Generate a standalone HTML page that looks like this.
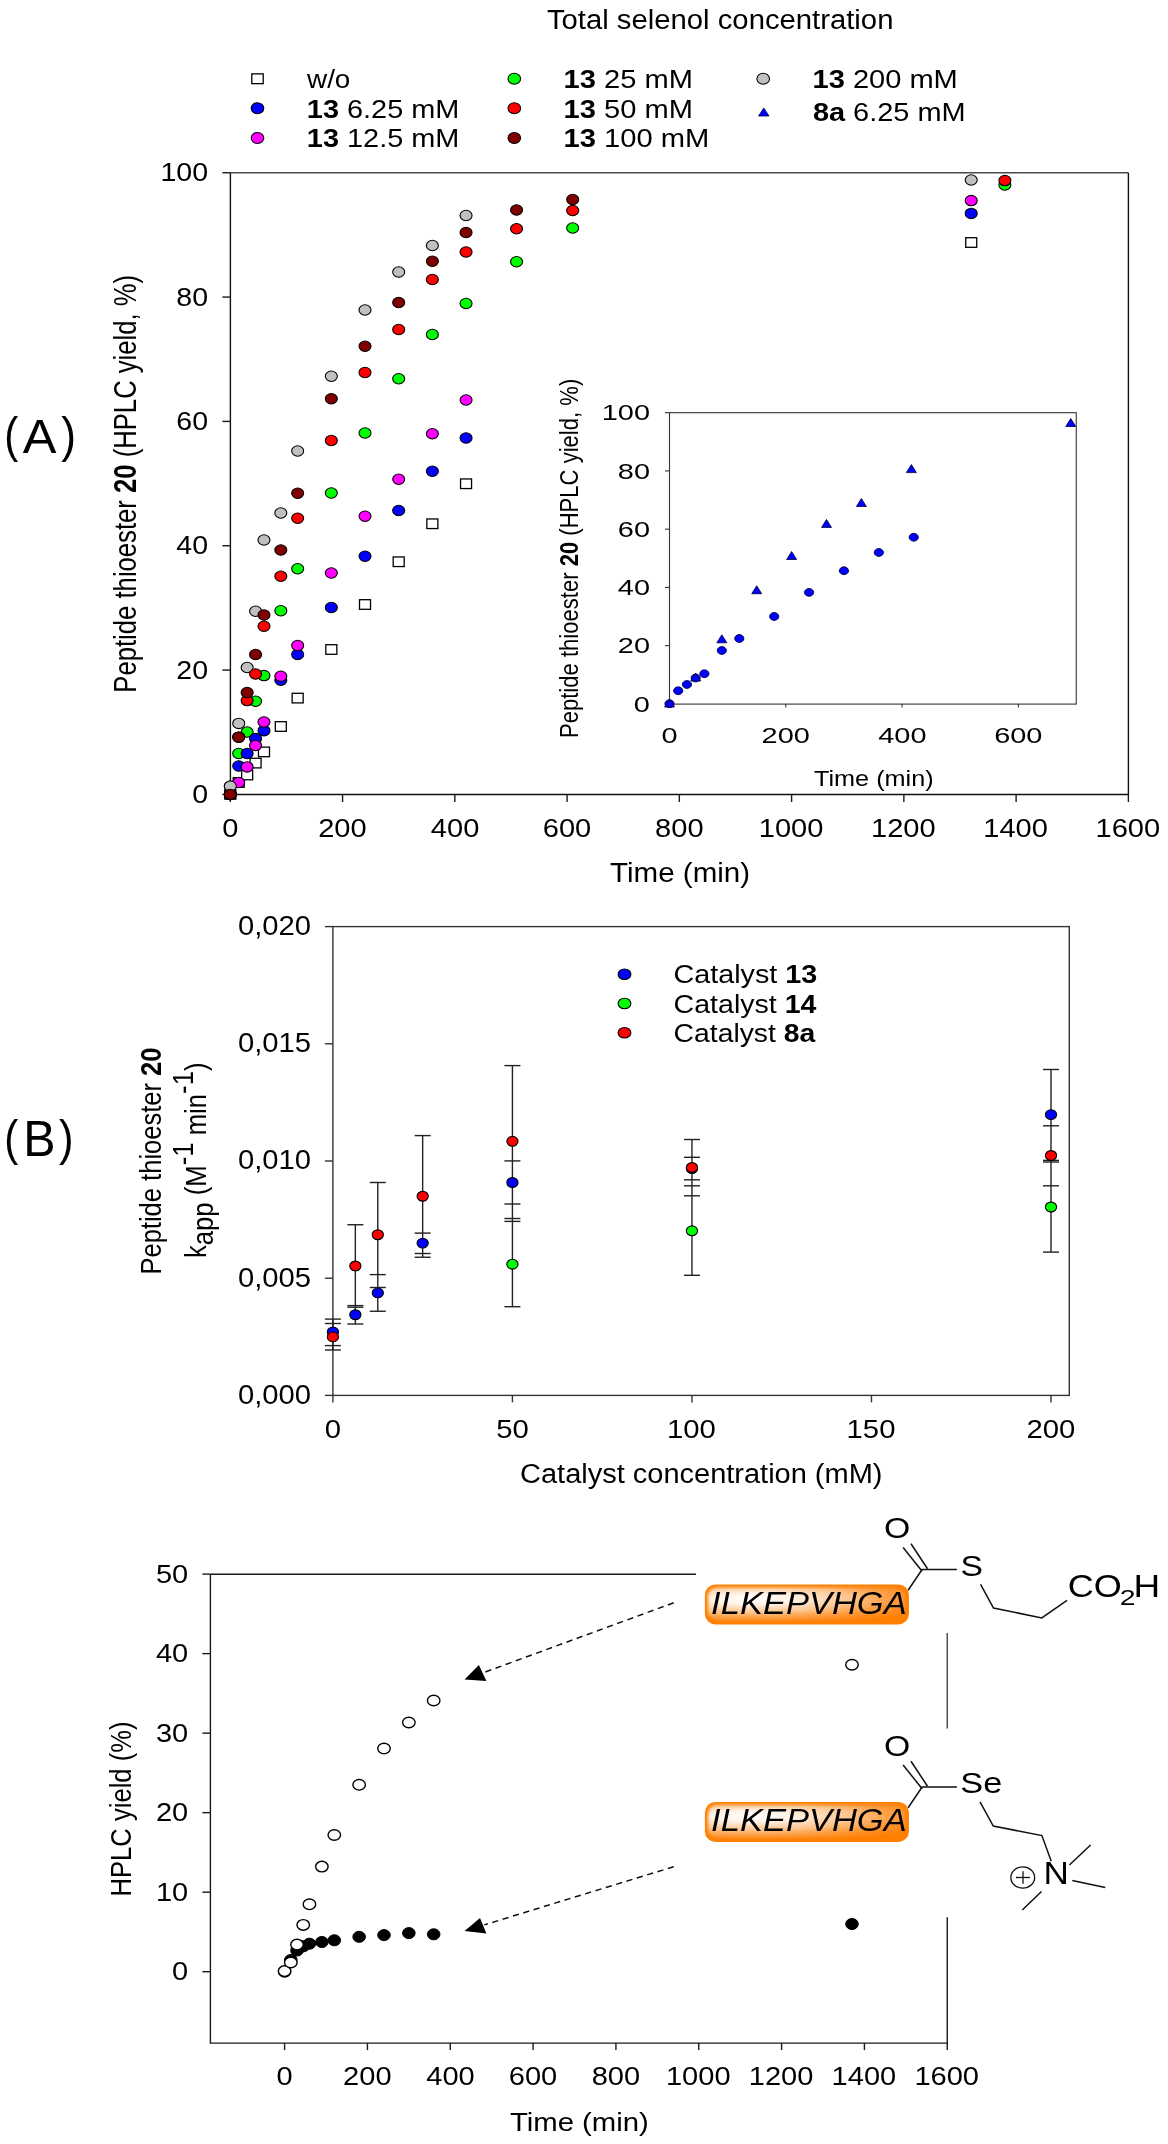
<!DOCTYPE html>
<html><head><meta charset="utf-8"><title>Figure</title>
<style>
html,body{margin:0;padding:0;background:#fff;}
body{width:1168px;height:2144px;overflow:hidden;}
svg{display:block;will-change:transform;}
text{font-family:"Liberation Sans",sans-serif;fill:#000;}
</style></head><body>
<svg width="1168" height="2144" viewBox="0 0 1168 2144">
<defs>
<filter id="bl" x="-10%" y="-30%" width="120%" height="160%"><feGaussianBlur stdDeviation="1.6"/></filter>
<radialGradient id="hl" cx="0.5" cy="0.5" r="0.5">
<stop offset="0" stop-color="#ffffff" stop-opacity="1"/>
<stop offset="0.2" stop-color="#fff6ee" stop-opacity="0.97"/>
<stop offset="0.5" stop-color="#fdd0a4" stop-opacity="0.85"/>
<stop offset="0.8" stop-color="#fca458" stop-opacity="0.45"/>
<stop offset="1" stop-color="#ff9030" stop-opacity="0"/>
</radialGradient>
</defs>
<rect width="1168" height="2144" fill="#fff"/>
<text xml:space="preserve" transform="translate(546.91,29.00) scale(1.0683,1)" font-size="27.40">Total selenol concentration</text>
<rect x="251.80" y="73.85" width="11.4" height="9.8" fill="#fff" stroke="#000" stroke-width="1.3"/>
<ellipse cx="257.50" cy="108.25" rx="6.3" ry="5.5" fill="#0000ff" stroke="#000" stroke-width="1.1"/>
<ellipse cx="257.50" cy="138.00" rx="6.3" ry="5.5" fill="#ff00ff" stroke="#000" stroke-width="1.1"/>
<text xml:space="preserve" transform="translate(307.00,87.50) scale(1.1155,1)" font-size="25.00">w/o</text>
<text xml:space="preserve" transform="translate(306.87,117.50) scale(1.1559,1)" font-size="25.00"><tspan font-weight="bold">13</tspan><tspan> 6.25 mM</tspan></text>
<text xml:space="preserve" transform="translate(306.87,147.00) scale(1.1559,1)" font-size="25.00"><tspan font-weight="bold">13</tspan><tspan> 12.5 mM</tspan></text>
<ellipse cx="514.30" cy="78.75" rx="6.3" ry="5.5" fill="#00ff00" stroke="#000" stroke-width="1.1"/>
<ellipse cx="514.30" cy="108.25" rx="6.3" ry="5.5" fill="#ff0000" stroke="#000" stroke-width="1.1"/>
<ellipse cx="514.30" cy="138.00" rx="6.3" ry="5.5" fill="#800000" stroke="#000" stroke-width="1.1"/>
<text xml:space="preserve" transform="translate(563.61,87.50) scale(1.1628,1)" font-size="25.00"><tspan font-weight="bold">13</tspan><tspan> 25 mM</tspan></text>
<text xml:space="preserve" transform="translate(563.61,117.50) scale(1.1628,1)" font-size="25.00"><tspan font-weight="bold">13</tspan><tspan> 50 mM</tspan></text>
<text xml:space="preserve" transform="translate(563.61,147.00) scale(1.1658,1)" font-size="25.00"><tspan font-weight="bold">13</tspan><tspan> 100 mM</tspan></text>
<ellipse cx="763.20" cy="78.75" rx="6.3" ry="5.5" fill="#c0c0c0" stroke="#000" stroke-width="1.1"/>
<polygon points="758.50,116.00 769.00,116.00 763.75,108.00" fill="#0000ff" stroke="#000033" stroke-width="0.8"/>
<text xml:space="preserve" transform="translate(812.61,87.50) scale(1.1617,1)" font-size="25.00"><tspan font-weight="bold">13</tspan><tspan> 200 mM</tspan></text>
<text xml:space="preserve" transform="translate(812.88,120.75) scale(1.1578,1)" font-size="25.00"><tspan font-weight="bold">8a</tspan><tspan> 6.25 mM</tspan></text>
<path d="M230.4,172.75 L1128.4,172.75" stroke="#4a4a4a" stroke-width="1.4" fill="none"/>
<path d="M1128.4,172.75 L1128.4,794.5 L230.4,794.5 L230.4,172.75" stroke="#111" stroke-width="1.4" fill="none"/>
<line x1="222.40" y1="794.40" x2="230.40" y2="794.40" stroke="#1a1a1a" stroke-width="1.4"/>
<text xml:space="preserve" transform="translate(192.19,803.00) scale(1.0900,1)" font-size="26.20">0</text>
<line x1="222.40" y1="670.07" x2="230.40" y2="670.07" stroke="#1a1a1a" stroke-width="1.4"/>
<text xml:space="preserve" transform="translate(176.34,678.67) scale(1.0900,1)" font-size="26.20">20</text>
<line x1="222.40" y1="545.74" x2="230.40" y2="545.74" stroke="#1a1a1a" stroke-width="1.4"/>
<text xml:space="preserve" transform="translate(176.34,554.34) scale(1.0900,1)" font-size="26.20">40</text>
<line x1="222.40" y1="421.41" x2="230.40" y2="421.41" stroke="#1a1a1a" stroke-width="1.4"/>
<text xml:space="preserve" transform="translate(176.34,430.01) scale(1.0900,1)" font-size="26.20">60</text>
<line x1="222.40" y1="297.08" x2="230.40" y2="297.08" stroke="#1a1a1a" stroke-width="1.4"/>
<text xml:space="preserve" transform="translate(176.34,305.68) scale(1.0900,1)" font-size="26.20">80</text>
<line x1="222.40" y1="172.75" x2="230.40" y2="172.75" stroke="#1a1a1a" stroke-width="1.4"/>
<text xml:space="preserve" transform="translate(160.49,181.35) scale(1.0900,1)" font-size="26.20">100</text>
<line x1="230.30" y1="794.50" x2="230.30" y2="802.00" stroke="#1a1a1a" stroke-width="1.4"/>
<text xml:space="preserve" transform="translate(222.23,836.90) scale(1.1100,1)" font-size="26.20">0</text>
<line x1="342.56" y1="794.50" x2="342.56" y2="802.00" stroke="#1a1a1a" stroke-width="1.4"/>
<text xml:space="preserve" transform="translate(318.20,836.90) scale(1.1100,1)" font-size="26.20">200</text>
<line x1="454.82" y1="794.50" x2="454.82" y2="802.00" stroke="#1a1a1a" stroke-width="1.4"/>
<text xml:space="preserve" transform="translate(430.83,836.90) scale(1.1100,1)" font-size="26.20">400</text>
<line x1="567.08" y1="794.50" x2="567.08" y2="802.00" stroke="#1a1a1a" stroke-width="1.4"/>
<text xml:space="preserve" transform="translate(542.72,836.90) scale(1.1100,1)" font-size="26.20">600</text>
<line x1="679.34" y1="794.50" x2="679.34" y2="802.00" stroke="#1a1a1a" stroke-width="1.4"/>
<text xml:space="preserve" transform="translate(655.06,836.90) scale(1.1100,1)" font-size="26.20">800</text>
<line x1="791.60" y1="794.50" x2="791.60" y2="802.00" stroke="#1a1a1a" stroke-width="1.4"/>
<text xml:space="preserve" transform="translate(758.74,836.90) scale(1.1100,1)" font-size="26.20">1000</text>
<line x1="903.86" y1="794.50" x2="903.86" y2="802.00" stroke="#1a1a1a" stroke-width="1.4"/>
<text xml:space="preserve" transform="translate(871.00,836.90) scale(1.1100,1)" font-size="26.20">1200</text>
<line x1="1016.12" y1="794.50" x2="1016.12" y2="802.00" stroke="#1a1a1a" stroke-width="1.4"/>
<text xml:space="preserve" transform="translate(983.26,836.90) scale(1.1100,1)" font-size="26.20">1400</text>
<line x1="1128.38" y1="794.50" x2="1128.38" y2="802.00" stroke="#1a1a1a" stroke-width="1.4"/>
<text xml:space="preserve" transform="translate(1095.52,836.90) scale(1.1100,1)" font-size="26.20">1600</text>
<text xml:space="preserve" transform="translate(610.11,881.80) scale(1.1022,1)" font-size="26.80">Time (min)</text>
<text xml:space="preserve" transform="translate(135.60,692.65) scale(1.1972,1) rotate(-90)" font-size="25.66"><tspan>Peptide thioester </tspan><tspan font-weight="bold">20</tspan><tspan> (HPLC yield, %)</tspan></text>
<text xml:space="preserve" transform="translate(4.33,451.80) scale(0.8382,1)" font-size="50.20">(</text>
<text xml:space="preserve" transform="translate(22.85,452.65) scale(1.0370,1)" font-size="48.80">A</text>
<text xml:space="preserve" transform="translate(61.15,451.80) scale(0.8888,1)" font-size="50.20">)</text>
<g>
<rect x="224.80" y="789.60" width="11" height="9.6" fill="#fff" stroke="#000" stroke-width="1.3"/>
<rect x="233.22" y="777.70" width="11" height="9.6" fill="#fff" stroke="#000" stroke-width="1.3"/>
<rect x="241.64" y="770.20" width="11" height="9.6" fill="#fff" stroke="#000" stroke-width="1.3"/>
<rect x="250.06" y="758.30" width="11" height="9.6" fill="#fff" stroke="#000" stroke-width="1.3"/>
<rect x="258.48" y="747.10" width="11" height="9.6" fill="#fff" stroke="#000" stroke-width="1.3"/>
<rect x="275.32" y="721.70" width="11" height="9.6" fill="#fff" stroke="#000" stroke-width="1.3"/>
<rect x="292.16" y="693.30" width="11" height="9.6" fill="#fff" stroke="#000" stroke-width="1.3"/>
<rect x="325.83" y="644.70" width="11" height="9.6" fill="#fff" stroke="#000" stroke-width="1.3"/>
<rect x="359.51" y="599.70" width="11" height="9.6" fill="#fff" stroke="#000" stroke-width="1.3"/>
<rect x="393.19" y="556.95" width="11" height="9.6" fill="#fff" stroke="#000" stroke-width="1.3"/>
<rect x="426.87" y="518.95" width="11" height="9.6" fill="#fff" stroke="#000" stroke-width="1.3"/>
<rect x="460.55" y="478.95" width="11" height="9.6" fill="#fff" stroke="#000" stroke-width="1.3"/>
<rect x="965.72" y="237.70" width="11" height="9.6" fill="#fff" stroke="#000" stroke-width="1.3"/>
<ellipse cx="230.30" cy="786.25" rx="6.0" ry="5.2" fill="#c0c0c0" stroke="#000" stroke-width="1.1"/>
<ellipse cx="238.72" cy="723.40" rx="6.0" ry="5.2" fill="#c0c0c0" stroke="#000" stroke-width="1.1"/>
<ellipse cx="247.14" cy="667.50" rx="6.0" ry="5.2" fill="#c0c0c0" stroke="#000" stroke-width="1.1"/>
<ellipse cx="255.56" cy="611.25" rx="6.0" ry="5.2" fill="#c0c0c0" stroke="#000" stroke-width="1.1"/>
<ellipse cx="263.98" cy="540.00" rx="6.0" ry="5.2" fill="#c0c0c0" stroke="#000" stroke-width="1.1"/>
<ellipse cx="280.82" cy="513.00" rx="6.0" ry="5.2" fill="#c0c0c0" stroke="#000" stroke-width="1.1"/>
<ellipse cx="297.66" cy="451.00" rx="6.0" ry="5.2" fill="#c0c0c0" stroke="#000" stroke-width="1.1"/>
<ellipse cx="331.33" cy="376.25" rx="6.0" ry="5.2" fill="#c0c0c0" stroke="#000" stroke-width="1.1"/>
<ellipse cx="365.01" cy="310.00" rx="6.0" ry="5.2" fill="#c0c0c0" stroke="#000" stroke-width="1.1"/>
<ellipse cx="398.69" cy="272.00" rx="6.0" ry="5.2" fill="#c0c0c0" stroke="#000" stroke-width="1.1"/>
<ellipse cx="432.37" cy="245.50" rx="6.0" ry="5.2" fill="#c0c0c0" stroke="#000" stroke-width="1.1"/>
<ellipse cx="466.05" cy="215.50" rx="6.0" ry="5.2" fill="#c0c0c0" stroke="#000" stroke-width="1.1"/>
<ellipse cx="971.22" cy="180.00" rx="6.0" ry="5.2" fill="#c0c0c0" stroke="#000" stroke-width="1.1"/>
<ellipse cx="230.30" cy="794.40" rx="6.0" ry="5.2" fill="#00ff00" stroke="#000" stroke-width="1.1"/>
<ellipse cx="238.72" cy="753.50" rx="6.0" ry="5.2" fill="#00ff00" stroke="#000" stroke-width="1.1"/>
<ellipse cx="247.14" cy="732.00" rx="6.0" ry="5.2" fill="#00ff00" stroke="#000" stroke-width="1.1"/>
<ellipse cx="255.56" cy="701.25" rx="6.0" ry="5.2" fill="#00ff00" stroke="#000" stroke-width="1.1"/>
<ellipse cx="263.98" cy="675.60" rx="6.0" ry="5.2" fill="#00ff00" stroke="#000" stroke-width="1.1"/>
<ellipse cx="280.82" cy="610.75" rx="6.0" ry="5.2" fill="#00ff00" stroke="#000" stroke-width="1.1"/>
<ellipse cx="297.66" cy="568.75" rx="6.0" ry="5.2" fill="#00ff00" stroke="#000" stroke-width="1.1"/>
<ellipse cx="331.33" cy="493.00" rx="6.0" ry="5.2" fill="#00ff00" stroke="#000" stroke-width="1.1"/>
<ellipse cx="365.01" cy="433.00" rx="6.0" ry="5.2" fill="#00ff00" stroke="#000" stroke-width="1.1"/>
<ellipse cx="398.69" cy="378.75" rx="6.0" ry="5.2" fill="#00ff00" stroke="#000" stroke-width="1.1"/>
<ellipse cx="432.37" cy="334.50" rx="6.0" ry="5.2" fill="#00ff00" stroke="#000" stroke-width="1.1"/>
<ellipse cx="466.05" cy="303.50" rx="6.0" ry="5.2" fill="#00ff00" stroke="#000" stroke-width="1.1"/>
<ellipse cx="516.56" cy="261.75" rx="6.0" ry="5.2" fill="#00ff00" stroke="#000" stroke-width="1.1"/>
<ellipse cx="572.69" cy="228.00" rx="6.0" ry="5.2" fill="#00ff00" stroke="#000" stroke-width="1.1"/>
<ellipse cx="1004.89" cy="185.00" rx="6.0" ry="5.2" fill="#00ff00" stroke="#000" stroke-width="1.1"/>
<ellipse cx="230.30" cy="794.40" rx="6.0" ry="5.2" fill="#ff0000" stroke="#000" stroke-width="1.1"/>
<ellipse cx="238.72" cy="737.20" rx="6.0" ry="5.2" fill="#ff0000" stroke="#000" stroke-width="1.1"/>
<ellipse cx="247.14" cy="700.60" rx="6.0" ry="5.2" fill="#ff0000" stroke="#000" stroke-width="1.1"/>
<ellipse cx="255.56" cy="674.00" rx="6.0" ry="5.2" fill="#ff0000" stroke="#000" stroke-width="1.1"/>
<ellipse cx="263.98" cy="626.25" rx="6.0" ry="5.2" fill="#ff0000" stroke="#000" stroke-width="1.1"/>
<ellipse cx="280.82" cy="576.25" rx="6.0" ry="5.2" fill="#ff0000" stroke="#000" stroke-width="1.1"/>
<ellipse cx="297.66" cy="518.25" rx="6.0" ry="5.2" fill="#ff0000" stroke="#000" stroke-width="1.1"/>
<ellipse cx="331.33" cy="440.50" rx="6.0" ry="5.2" fill="#ff0000" stroke="#000" stroke-width="1.1"/>
<ellipse cx="365.01" cy="372.50" rx="6.0" ry="5.2" fill="#ff0000" stroke="#000" stroke-width="1.1"/>
<ellipse cx="398.69" cy="329.50" rx="6.0" ry="5.2" fill="#ff0000" stroke="#000" stroke-width="1.1"/>
<ellipse cx="432.37" cy="279.50" rx="6.0" ry="5.2" fill="#ff0000" stroke="#000" stroke-width="1.1"/>
<ellipse cx="466.05" cy="252.00" rx="6.0" ry="5.2" fill="#ff0000" stroke="#000" stroke-width="1.1"/>
<ellipse cx="516.56" cy="228.75" rx="6.0" ry="5.2" fill="#ff0000" stroke="#000" stroke-width="1.1"/>
<ellipse cx="572.69" cy="210.50" rx="6.0" ry="5.2" fill="#ff0000" stroke="#000" stroke-width="1.1"/>
<ellipse cx="1004.89" cy="180.60" rx="6.0" ry="5.2" fill="#ff0000" stroke="#000" stroke-width="1.1"/>
<ellipse cx="230.30" cy="794.40" rx="6.0" ry="5.2" fill="#800000" stroke="#000" stroke-width="1.1"/>
<ellipse cx="238.72" cy="737.20" rx="6.0" ry="5.2" fill="#800000" stroke="#000" stroke-width="1.1"/>
<ellipse cx="247.14" cy="692.50" rx="6.0" ry="5.2" fill="#800000" stroke="#000" stroke-width="1.1"/>
<ellipse cx="255.56" cy="654.50" rx="6.0" ry="5.2" fill="#800000" stroke="#000" stroke-width="1.1"/>
<ellipse cx="263.98" cy="615.00" rx="6.0" ry="5.2" fill="#800000" stroke="#000" stroke-width="1.1"/>
<ellipse cx="280.82" cy="550.00" rx="6.0" ry="5.2" fill="#800000" stroke="#000" stroke-width="1.1"/>
<ellipse cx="297.66" cy="493.25" rx="6.0" ry="5.2" fill="#800000" stroke="#000" stroke-width="1.1"/>
<ellipse cx="331.33" cy="398.75" rx="6.0" ry="5.2" fill="#800000" stroke="#000" stroke-width="1.1"/>
<ellipse cx="365.01" cy="346.25" rx="6.0" ry="5.2" fill="#800000" stroke="#000" stroke-width="1.1"/>
<ellipse cx="398.69" cy="302.50" rx="6.0" ry="5.2" fill="#800000" stroke="#000" stroke-width="1.1"/>
<ellipse cx="432.37" cy="261.25" rx="6.0" ry="5.2" fill="#800000" stroke="#000" stroke-width="1.1"/>
<ellipse cx="466.05" cy="232.50" rx="6.0" ry="5.2" fill="#800000" stroke="#000" stroke-width="1.1"/>
<ellipse cx="516.56" cy="210.00" rx="6.0" ry="5.2" fill="#800000" stroke="#000" stroke-width="1.1"/>
<ellipse cx="572.69" cy="199.50" rx="6.0" ry="5.2" fill="#800000" stroke="#000" stroke-width="1.1"/>
<ellipse cx="238.72" cy="766.00" rx="6.0" ry="5.2" fill="#0000ff" stroke="#000" stroke-width="1.1"/>
<ellipse cx="247.14" cy="753.50" rx="6.0" ry="5.2" fill="#0000ff" stroke="#000" stroke-width="1.1"/>
<ellipse cx="255.56" cy="738.60" rx="6.0" ry="5.2" fill="#0000ff" stroke="#000" stroke-width="1.1"/>
<ellipse cx="263.98" cy="730.70" rx="6.0" ry="5.2" fill="#0000ff" stroke="#000" stroke-width="1.1"/>
<ellipse cx="280.82" cy="680.25" rx="6.0" ry="5.2" fill="#0000ff" stroke="#000" stroke-width="1.1"/>
<ellipse cx="297.66" cy="654.50" rx="6.0" ry="5.2" fill="#0000ff" stroke="#000" stroke-width="1.1"/>
<ellipse cx="331.33" cy="607.50" rx="6.0" ry="5.2" fill="#0000ff" stroke="#000" stroke-width="1.1"/>
<ellipse cx="365.01" cy="556.25" rx="6.0" ry="5.2" fill="#0000ff" stroke="#000" stroke-width="1.1"/>
<ellipse cx="398.69" cy="510.50" rx="6.0" ry="5.2" fill="#0000ff" stroke="#000" stroke-width="1.1"/>
<ellipse cx="432.37" cy="471.25" rx="6.0" ry="5.2" fill="#0000ff" stroke="#000" stroke-width="1.1"/>
<ellipse cx="466.05" cy="438.00" rx="6.0" ry="5.2" fill="#0000ff" stroke="#000" stroke-width="1.1"/>
<ellipse cx="971.22" cy="213.40" rx="6.0" ry="5.2" fill="#0000ff" stroke="#000" stroke-width="1.1"/>
<ellipse cx="238.72" cy="782.50" rx="6.0" ry="5.2" fill="#ff00ff" stroke="#000" stroke-width="1.1"/>
<ellipse cx="247.14" cy="766.90" rx="6.0" ry="5.2" fill="#ff00ff" stroke="#000" stroke-width="1.1"/>
<ellipse cx="255.56" cy="745.50" rx="6.0" ry="5.2" fill="#ff00ff" stroke="#000" stroke-width="1.1"/>
<ellipse cx="263.98" cy="722.00" rx="6.0" ry="5.2" fill="#ff00ff" stroke="#000" stroke-width="1.1"/>
<ellipse cx="280.82" cy="676.25" rx="6.0" ry="5.2" fill="#ff00ff" stroke="#000" stroke-width="1.1"/>
<ellipse cx="297.66" cy="645.50" rx="6.0" ry="5.2" fill="#ff00ff" stroke="#000" stroke-width="1.1"/>
<ellipse cx="331.33" cy="573.00" rx="6.0" ry="5.2" fill="#ff00ff" stroke="#000" stroke-width="1.1"/>
<ellipse cx="365.01" cy="516.25" rx="6.0" ry="5.2" fill="#ff00ff" stroke="#000" stroke-width="1.1"/>
<ellipse cx="398.69" cy="479.25" rx="6.0" ry="5.2" fill="#ff00ff" stroke="#000" stroke-width="1.1"/>
<ellipse cx="432.37" cy="433.75" rx="6.0" ry="5.2" fill="#ff00ff" stroke="#000" stroke-width="1.1"/>
<ellipse cx="466.05" cy="400.00" rx="6.0" ry="5.2" fill="#ff00ff" stroke="#000" stroke-width="1.1"/>
<ellipse cx="971.22" cy="200.60" rx="6.0" ry="5.2" fill="#ff00ff" stroke="#000" stroke-width="1.1"/>
<ellipse cx="230.30" cy="786.25" rx="6.0" ry="5.2" fill="#c0c0c0" stroke="#000" stroke-width="1.1"/>
<ellipse cx="230.30" cy="794.40" rx="6.0" ry="5.2" fill="#800000" stroke="#000" stroke-width="1.1"/>
</g>
<rect x="669.5" y="412.7" width="406.75" height="291.40000000000003" fill="none" stroke="#333" stroke-width="1.1"/>
<line x1="665.00" y1="703.90" x2="669.50" y2="703.90" stroke="#333" stroke-width="1.1"/>
<text xml:space="preserve" transform="translate(633.85,711.50) scale(1.2800,1)" font-size="22.60">0</text>
<line x1="665.00" y1="645.65" x2="669.50" y2="645.65" stroke="#333" stroke-width="1.1"/>
<text xml:space="preserve" transform="translate(617.80,653.25) scale(1.2800,1)" font-size="22.60">20</text>
<line x1="665.00" y1="587.40" x2="669.50" y2="587.40" stroke="#333" stroke-width="1.1"/>
<text xml:space="preserve" transform="translate(617.80,595.00) scale(1.2800,1)" font-size="22.60">40</text>
<line x1="665.00" y1="529.15" x2="669.50" y2="529.15" stroke="#333" stroke-width="1.1"/>
<text xml:space="preserve" transform="translate(617.80,536.75) scale(1.2800,1)" font-size="22.60">60</text>
<line x1="665.00" y1="470.90" x2="669.50" y2="470.90" stroke="#333" stroke-width="1.1"/>
<text xml:space="preserve" transform="translate(617.80,478.50) scale(1.2800,1)" font-size="22.60">80</text>
<line x1="665.00" y1="412.65" x2="669.50" y2="412.65" stroke="#333" stroke-width="1.1"/>
<text xml:space="preserve" transform="translate(601.74,420.25) scale(1.2800,1)" font-size="22.60">100</text>
<line x1="669.50" y1="704.10" x2="669.50" y2="707.60" stroke="#333" stroke-width="1.1"/>
<text xml:space="preserve" transform="translate(661.47,742.75) scale(1.2800,1)" font-size="22.60">0</text>
<line x1="785.80" y1="704.10" x2="785.80" y2="707.60" stroke="#333" stroke-width="1.1"/>
<text xml:space="preserve" transform="translate(761.57,742.75) scale(1.2800,1)" font-size="22.60">200</text>
<line x1="902.10" y1="704.10" x2="902.10" y2="707.60" stroke="#333" stroke-width="1.1"/>
<text xml:space="preserve" transform="translate(878.23,742.75) scale(1.2800,1)" font-size="22.60">400</text>
<line x1="1018.40" y1="704.10" x2="1018.40" y2="707.60" stroke="#333" stroke-width="1.1"/>
<text xml:space="preserve" transform="translate(994.17,742.75) scale(1.2800,1)" font-size="22.60">600</text>
<text xml:space="preserve" transform="translate(814.00,785.50) scale(1.1219,1)" font-size="22.50">Time (min)</text>
<text xml:space="preserve" transform="translate(578.25,738.02) scale(1.1655,1) rotate(-90)" font-size="22.07"><tspan>Peptide thioester </tspan><tspan font-weight="bold">20</tspan><tspan> (HPLC yield, %)</tspan></text>
<ellipse cx="669.50" cy="703.75" rx="4.6" ry="3.9" fill="#0000ff" stroke="#000040" stroke-width="0.9"/>
<ellipse cx="678.22" cy="690.75" rx="4.6" ry="3.9" fill="#0000ff" stroke="#000040" stroke-width="0.9"/>
<ellipse cx="686.95" cy="684.50" rx="4.6" ry="3.9" fill="#0000ff" stroke="#000040" stroke-width="0.9"/>
<ellipse cx="695.67" cy="678.00" rx="4.6" ry="3.9" fill="#0000ff" stroke="#000040" stroke-width="0.9"/>
<ellipse cx="704.39" cy="673.75" rx="4.6" ry="3.9" fill="#0000ff" stroke="#000040" stroke-width="0.9"/>
<ellipse cx="721.84" cy="650.50" rx="4.6" ry="3.9" fill="#0000ff" stroke="#000040" stroke-width="0.9"/>
<ellipse cx="739.28" cy="638.50" rx="4.6" ry="3.9" fill="#0000ff" stroke="#000040" stroke-width="0.9"/>
<ellipse cx="774.17" cy="616.50" rx="4.6" ry="3.9" fill="#0000ff" stroke="#000040" stroke-width="0.9"/>
<ellipse cx="809.06" cy="592.40" rx="4.6" ry="3.9" fill="#0000ff" stroke="#000040" stroke-width="0.9"/>
<ellipse cx="843.95" cy="570.75" rx="4.6" ry="3.9" fill="#0000ff" stroke="#000040" stroke-width="0.9"/>
<ellipse cx="878.84" cy="552.50" rx="4.6" ry="3.9" fill="#0000ff" stroke="#000040" stroke-width="0.9"/>
<ellipse cx="913.73" cy="537.25" rx="4.6" ry="3.9" fill="#0000ff" stroke="#000040" stroke-width="0.9"/>
<polygon points="664.50,707.00 674.50,707.00 669.50,699.00" fill="#0000ff" stroke="#000033" stroke-width="0.8"/>
<polygon points="690.67,681.00 700.67,681.00 695.67,673.00" fill="#0000ff" stroke="#000033" stroke-width="0.8"/>
<polygon points="716.84,642.80 726.84,642.80 721.84,634.80" fill="#0000ff" stroke="#000033" stroke-width="0.8"/>
<polygon points="751.73,593.75 761.73,593.75 756.73,585.75" fill="#0000ff" stroke="#000033" stroke-width="0.8"/>
<polygon points="786.62,559.50 796.62,559.50 791.62,551.50" fill="#0000ff" stroke="#000033" stroke-width="0.8"/>
<polygon points="821.50,527.40 831.50,527.40 826.50,519.40" fill="#0000ff" stroke="#000033" stroke-width="0.8"/>
<polygon points="856.39,506.50 866.39,506.50 861.39,498.50" fill="#0000ff" stroke="#000033" stroke-width="0.8"/>
<polygon points="906.40,472.60 916.40,472.60 911.40,464.60" fill="#0000ff" stroke="#000033" stroke-width="0.8"/>
<polygon points="1065.74,426.50 1075.74,426.50 1070.74,418.50" fill="#0000ff" stroke="#000033" stroke-width="0.8"/>
<rect x="332.9" y="926.6" width="736.4" height="468.80000000000007" fill="none" stroke="#333" stroke-width="1.4"/>
<line x1="324.90" y1="1395.40" x2="332.90" y2="1395.40" stroke="#333" stroke-width="1.4"/>
<text xml:space="preserve" transform="translate(237.89,1403.80) scale(1.0900,1)" font-size="26.80">0,000</text>
<line x1="324.90" y1="1278.20" x2="332.90" y2="1278.20" stroke="#333" stroke-width="1.4"/>
<text xml:space="preserve" transform="translate(237.89,1286.60) scale(1.0900,1)" font-size="26.80">0,005</text>
<line x1="324.90" y1="1161.00" x2="332.90" y2="1161.00" stroke="#333" stroke-width="1.4"/>
<text xml:space="preserve" transform="translate(237.89,1169.40) scale(1.0900,1)" font-size="26.80">0,010</text>
<line x1="324.90" y1="1043.80" x2="332.90" y2="1043.80" stroke="#333" stroke-width="1.4"/>
<text xml:space="preserve" transform="translate(237.89,1052.20) scale(1.0900,1)" font-size="26.80">0,015</text>
<line x1="324.90" y1="926.60" x2="332.90" y2="926.60" stroke="#333" stroke-width="1.4"/>
<text xml:space="preserve" transform="translate(237.89,935.00) scale(1.0900,1)" font-size="26.80">0,020</text>
<line x1="332.90" y1="1395.40" x2="332.90" y2="1402.40" stroke="#333" stroke-width="1.4"/>
<text xml:space="preserve" transform="translate(324.78,1437.50) scale(1.1000,1)" font-size="26.60">0</text>
<line x1="512.42" y1="1395.40" x2="512.42" y2="1402.40" stroke="#333" stroke-width="1.4"/>
<text xml:space="preserve" transform="translate(496.19,1437.50) scale(1.1000,1)" font-size="26.60">50</text>
<line x1="691.95" y1="1395.40" x2="691.95" y2="1402.40" stroke="#333" stroke-width="1.4"/>
<text xml:space="preserve" transform="translate(667.08,1437.50) scale(1.1000,1)" font-size="26.60">100</text>
<line x1="871.48" y1="1395.40" x2="871.48" y2="1402.40" stroke="#333" stroke-width="1.4"/>
<text xml:space="preserve" transform="translate(846.60,1437.50) scale(1.1000,1)" font-size="26.60">150</text>
<line x1="1051.00" y1="1395.40" x2="1051.00" y2="1402.40" stroke="#333" stroke-width="1.4"/>
<text xml:space="preserve" transform="translate(1026.49,1437.50) scale(1.1000,1)" font-size="26.60">200</text>
<text xml:space="preserve" transform="translate(520.05,1483.10) scale(1.0821,1)" font-size="26.80">Catalyst concentration (mM)</text>
<text xml:space="preserve" transform="translate(4.33,1155.40) scale(0.8382,1)" font-size="50.20">(</text>
<text xml:space="preserve" transform="translate(23.33,1156.30) scale(0.9860,1)" font-size="49.10">B</text>
<text xml:space="preserve" transform="translate(59.06,1155.40) scale(0.8734,1)" font-size="50.20">)</text>
<ellipse cx="624.50" cy="974.25" rx="6.4" ry="5.3" fill="#0000ff" stroke="#000" stroke-width="1.1"/>
<ellipse cx="624.50" cy="1003.50" rx="6.4" ry="5.3" fill="#00ff00" stroke="#000" stroke-width="1.1"/>
<ellipse cx="624.50" cy="1032.75" rx="6.4" ry="5.3" fill="#ff0000" stroke="#000" stroke-width="1.1"/>
<text xml:space="preserve" transform="translate(673.56,983.00) scale(1.1314,1)" font-size="25.40"><tspan>Catalyst </tspan><tspan font-weight="bold">13</tspan></text>
<text xml:space="preserve" transform="translate(673.57,1012.50) scale(1.1246,1)" font-size="25.40"><tspan>Catalyst </tspan><tspan font-weight="bold">14</tspan></text>
<text xml:space="preserve" transform="translate(673.58,1041.75) scale(1.1152,1)" font-size="25.40"><tspan>Catalyst </tspan><tspan font-weight="bold">8a</tspan></text>
<text xml:space="preserve" transform="translate(160.60,1274.54) scale(1.1695,1) rotate(-90)" font-size="25.53"><tspan>Peptide thioester </tspan><tspan font-weight="bold">20</tspan></text>
<text xml:space="preserve" transform="translate(205.8,1258.07) scale(1.12,1) rotate(-90)" font-size="25.7">k<tspan dy="6.70">app</tspan><tspan dy="-6.70"> (M</tspan><tspan dy="-11.52">-1</tspan><tspan dy="11.52"> min</tspan><tspan dy="-11.52">-1</tspan><tspan dy="11.52">)</tspan></text>
<line x1="332.90" y1="1319.10" x2="332.90" y2="1350.00" stroke="#222" stroke-width="1.4"/>
<line x1="324.90" y1="1319.10" x2="340.90" y2="1319.10" stroke="#222" stroke-width="1.4"/>
<line x1="324.90" y1="1323.50" x2="340.90" y2="1323.50" stroke="#222" stroke-width="1.4"/>
<line x1="324.90" y1="1345.60" x2="340.90" y2="1345.60" stroke="#222" stroke-width="1.4"/>
<line x1="324.90" y1="1350.00" x2="340.90" y2="1350.00" stroke="#222" stroke-width="1.4"/>
<line x1="355.34" y1="1224.75" x2="355.34" y2="1324.00" stroke="#222" stroke-width="1.4"/>
<line x1="347.34" y1="1224.75" x2="363.34" y2="1224.75" stroke="#222" stroke-width="1.4"/>
<line x1="347.34" y1="1305.60" x2="363.34" y2="1305.60" stroke="#222" stroke-width="1.4"/>
<line x1="347.34" y1="1307.20" x2="363.34" y2="1307.20" stroke="#222" stroke-width="1.4"/>
<line x1="347.34" y1="1324.00" x2="363.34" y2="1324.00" stroke="#222" stroke-width="1.4"/>
<line x1="377.78" y1="1182.50" x2="377.78" y2="1311.25" stroke="#222" stroke-width="1.4"/>
<line x1="369.78" y1="1182.50" x2="385.78" y2="1182.50" stroke="#222" stroke-width="1.4"/>
<line x1="369.78" y1="1274.60" x2="385.78" y2="1274.60" stroke="#222" stroke-width="1.4"/>
<line x1="369.78" y1="1287.50" x2="385.78" y2="1287.50" stroke="#222" stroke-width="1.4"/>
<line x1="369.78" y1="1311.25" x2="385.78" y2="1311.25" stroke="#222" stroke-width="1.4"/>
<line x1="422.66" y1="1135.60" x2="422.66" y2="1257.25" stroke="#222" stroke-width="1.4"/>
<line x1="414.66" y1="1135.60" x2="430.66" y2="1135.60" stroke="#222" stroke-width="1.4"/>
<line x1="414.66" y1="1233.10" x2="430.66" y2="1233.10" stroke="#222" stroke-width="1.4"/>
<line x1="414.66" y1="1253.50" x2="430.66" y2="1253.50" stroke="#222" stroke-width="1.4"/>
<line x1="414.66" y1="1257.25" x2="430.66" y2="1257.25" stroke="#222" stroke-width="1.4"/>
<line x1="512.42" y1="1065.60" x2="512.42" y2="1306.70" stroke="#222" stroke-width="1.4"/>
<line x1="504.42" y1="1065.60" x2="520.42" y2="1065.60" stroke="#222" stroke-width="1.4"/>
<line x1="504.42" y1="1160.90" x2="520.42" y2="1160.90" stroke="#222" stroke-width="1.4"/>
<line x1="504.42" y1="1204.00" x2="520.42" y2="1204.00" stroke="#222" stroke-width="1.4"/>
<line x1="504.42" y1="1218.50" x2="520.42" y2="1218.50" stroke="#222" stroke-width="1.4"/>
<line x1="504.42" y1="1221.40" x2="520.42" y2="1221.40" stroke="#222" stroke-width="1.4"/>
<line x1="504.42" y1="1306.70" x2="520.42" y2="1306.70" stroke="#222" stroke-width="1.4"/>
<line x1="691.95" y1="1139.50" x2="691.95" y2="1275.30" stroke="#222" stroke-width="1.4"/>
<line x1="683.95" y1="1139.50" x2="699.95" y2="1139.50" stroke="#222" stroke-width="1.4"/>
<line x1="683.95" y1="1157.30" x2="699.95" y2="1157.30" stroke="#222" stroke-width="1.4"/>
<line x1="683.95" y1="1179.80" x2="699.95" y2="1179.80" stroke="#222" stroke-width="1.4"/>
<line x1="683.95" y1="1185.80" x2="699.95" y2="1185.80" stroke="#222" stroke-width="1.4"/>
<line x1="683.95" y1="1195.80" x2="699.95" y2="1195.80" stroke="#222" stroke-width="1.4"/>
<line x1="683.95" y1="1275.30" x2="699.95" y2="1275.30" stroke="#222" stroke-width="1.4"/>
<line x1="1051.00" y1="1069.50" x2="1051.00" y2="1252.10" stroke="#222" stroke-width="1.4"/>
<line x1="1043.00" y1="1069.50" x2="1059.00" y2="1069.50" stroke="#222" stroke-width="1.4"/>
<line x1="1043.00" y1="1125.80" x2="1059.00" y2="1125.80" stroke="#222" stroke-width="1.4"/>
<line x1="1043.00" y1="1160.40" x2="1059.00" y2="1160.40" stroke="#222" stroke-width="1.4"/>
<line x1="1043.00" y1="1162.00" x2="1059.00" y2="1162.00" stroke="#222" stroke-width="1.4"/>
<line x1="1043.00" y1="1185.80" x2="1059.00" y2="1185.80" stroke="#222" stroke-width="1.4"/>
<line x1="1043.00" y1="1252.10" x2="1059.00" y2="1252.10" stroke="#222" stroke-width="1.4"/>
<ellipse cx="512.42" cy="1264.20" rx="5.6" ry="4.9" fill="#00ff00" stroke="#000" stroke-width="1.1"/>
<ellipse cx="691.95" cy="1230.80" rx="5.6" ry="4.9" fill="#00ff00" stroke="#000" stroke-width="1.1"/>
<ellipse cx="1051.00" cy="1207.00" rx="5.6" ry="4.9" fill="#00ff00" stroke="#000" stroke-width="1.1"/>
<ellipse cx="332.90" cy="1331.90" rx="5.6" ry="4.9" fill="#0000ff" stroke="#000" stroke-width="1.1"/>
<ellipse cx="355.34" cy="1314.75" rx="5.6" ry="4.9" fill="#0000ff" stroke="#000" stroke-width="1.1"/>
<ellipse cx="377.78" cy="1292.90" rx="5.6" ry="4.9" fill="#0000ff" stroke="#000" stroke-width="1.1"/>
<ellipse cx="422.66" cy="1243.10" rx="5.6" ry="4.9" fill="#0000ff" stroke="#000" stroke-width="1.1"/>
<ellipse cx="512.42" cy="1182.50" rx="5.6" ry="4.9" fill="#0000ff" stroke="#000" stroke-width="1.1"/>
<ellipse cx="691.95" cy="1168.50" rx="5.6" ry="4.9" fill="#0000ff" stroke="#000" stroke-width="1.1"/>
<ellipse cx="1051.00" cy="1114.60" rx="5.6" ry="4.9" fill="#0000ff" stroke="#000" stroke-width="1.1"/>
<ellipse cx="332.90" cy="1336.90" rx="5.6" ry="4.9" fill="#ff0000" stroke="#000" stroke-width="1.1"/>
<ellipse cx="355.34" cy="1266.00" rx="5.6" ry="4.9" fill="#ff0000" stroke="#000" stroke-width="1.1"/>
<ellipse cx="377.78" cy="1234.75" rx="5.6" ry="4.9" fill="#ff0000" stroke="#000" stroke-width="1.1"/>
<ellipse cx="422.66" cy="1196.25" rx="5.6" ry="4.9" fill="#ff0000" stroke="#000" stroke-width="1.1"/>
<ellipse cx="512.42" cy="1141.30" rx="5.6" ry="4.9" fill="#ff0000" stroke="#000" stroke-width="1.1"/>
<ellipse cx="691.95" cy="1167.50" rx="5.6" ry="4.9" fill="#ff0000" stroke="#000" stroke-width="1.1"/>
<ellipse cx="1051.00" cy="1155.50" rx="5.6" ry="4.9" fill="#ff0000" stroke="#000" stroke-width="1.1"/>
<path d="M210.4,1574.2 L696,1574.2" stroke="#1a1a1a" stroke-width="1.4" fill="none"/>
<path d="M210.4,1574.2 L210.4,2043.1 L947.25,2043.1 L947.25,1917.2" stroke="#1a1a1a" stroke-width="1.4" fill="none"/>
<path d="M947.25,1633.1 L947.25,1728.5" stroke="#444" stroke-width="1.4" fill="none"/>
<line x1="202.40" y1="1971.70" x2="210.40" y2="1971.70" stroke="#1a1a1a" stroke-width="1.4"/>
<text xml:space="preserve" transform="translate(172.04,1980.40) scale(1.1000,1)" font-size="26.40">0</text>
<line x1="202.40" y1="1892.18" x2="210.40" y2="1892.18" stroke="#1a1a1a" stroke-width="1.4"/>
<text xml:space="preserve" transform="translate(155.93,1900.88) scale(1.1000,1)" font-size="26.40">10</text>
<line x1="202.40" y1="1812.66" x2="210.40" y2="1812.66" stroke="#1a1a1a" stroke-width="1.4"/>
<text xml:space="preserve" transform="translate(155.93,1821.36) scale(1.1000,1)" font-size="26.40">20</text>
<line x1="202.40" y1="1733.14" x2="210.40" y2="1733.14" stroke="#1a1a1a" stroke-width="1.4"/>
<text xml:space="preserve" transform="translate(155.93,1741.84) scale(1.1000,1)" font-size="26.40">30</text>
<line x1="202.40" y1="1653.62" x2="210.40" y2="1653.62" stroke="#1a1a1a" stroke-width="1.4"/>
<text xml:space="preserve" transform="translate(155.93,1662.32) scale(1.1000,1)" font-size="26.40">40</text>
<line x1="202.40" y1="1574.10" x2="210.40" y2="1574.10" stroke="#1a1a1a" stroke-width="1.4"/>
<text xml:space="preserve" transform="translate(155.93,1582.80) scale(1.1000,1)" font-size="26.40">50</text>
<line x1="284.60" y1="2043.10" x2="284.60" y2="2050.10" stroke="#1a1a1a" stroke-width="1.4"/>
<text xml:space="preserve" transform="translate(276.54,2085.30) scale(1.1000,1)" font-size="26.40">0</text>
<line x1="367.43" y1="2043.10" x2="367.43" y2="2050.10" stroke="#1a1a1a" stroke-width="1.4"/>
<text xml:space="preserve" transform="translate(343.11,2085.30) scale(1.1000,1)" font-size="26.40">200</text>
<line x1="450.26" y1="2043.10" x2="450.26" y2="2050.10" stroke="#1a1a1a" stroke-width="1.4"/>
<text xml:space="preserve" transform="translate(426.30,2085.30) scale(1.1000,1)" font-size="26.40">400</text>
<line x1="533.09" y1="2043.10" x2="533.09" y2="2050.10" stroke="#1a1a1a" stroke-width="1.4"/>
<text xml:space="preserve" transform="translate(508.77,2085.30) scale(1.1000,1)" font-size="26.40">600</text>
<line x1="615.92" y1="2043.10" x2="615.92" y2="2050.10" stroke="#1a1a1a" stroke-width="1.4"/>
<text xml:space="preserve" transform="translate(591.67,2085.30) scale(1.1000,1)" font-size="26.40">800</text>
<line x1="698.75" y1="2043.10" x2="698.75" y2="2050.10" stroke="#1a1a1a" stroke-width="1.4"/>
<text xml:space="preserve" transform="translate(665.93,2085.30) scale(1.1000,1)" font-size="26.40">1000</text>
<line x1="781.58" y1="2043.10" x2="781.58" y2="2050.10" stroke="#1a1a1a" stroke-width="1.4"/>
<text xml:space="preserve" transform="translate(748.76,2085.30) scale(1.1000,1)" font-size="26.40">1200</text>
<line x1="864.41" y1="2043.10" x2="864.41" y2="2050.10" stroke="#1a1a1a" stroke-width="1.4"/>
<text xml:space="preserve" transform="translate(831.59,2085.30) scale(1.1000,1)" font-size="26.40">1400</text>
<line x1="947.24" y1="2043.10" x2="947.24" y2="2050.10" stroke="#1a1a1a" stroke-width="1.4"/>
<text xml:space="preserve" transform="translate(914.42,2085.30) scale(1.1000,1)" font-size="26.40">1600</text>
<text xml:space="preserve" transform="translate(509.91,2131.10) scale(1.1150,1)" font-size="26.30">Time (min)</text>
<text xml:space="preserve" transform="translate(131.25,1896.45) scale(1.1688,1) rotate(-90)" font-size="25.61">HPLC yield (%)</text>
<ellipse cx="284.60" cy="1971.70" rx="6.3" ry="5.55" fill="#000" stroke="#000" stroke-width="1.0"/>
<ellipse cx="290.81" cy="1960.00" rx="6.3" ry="5.55" fill="#000" stroke="#000" stroke-width="1.0"/>
<ellipse cx="297.02" cy="1950.50" rx="6.3" ry="5.55" fill="#000" stroke="#000" stroke-width="1.0"/>
<ellipse cx="303.24" cy="1946.30" rx="6.3" ry="5.55" fill="#000" stroke="#000" stroke-width="1.0"/>
<ellipse cx="309.45" cy="1943.70" rx="6.3" ry="5.55" fill="#000" stroke="#000" stroke-width="1.0"/>
<ellipse cx="321.87" cy="1942.00" rx="6.3" ry="5.55" fill="#000" stroke="#000" stroke-width="1.0"/>
<ellipse cx="334.30" cy="1940.30" rx="6.3" ry="5.55" fill="#000" stroke="#000" stroke-width="1.0"/>
<ellipse cx="359.15" cy="1936.80" rx="6.3" ry="5.55" fill="#000" stroke="#000" stroke-width="1.0"/>
<ellipse cx="384.00" cy="1935.10" rx="6.3" ry="5.55" fill="#000" stroke="#000" stroke-width="1.0"/>
<ellipse cx="408.85" cy="1933.10" rx="6.3" ry="5.55" fill="#000" stroke="#000" stroke-width="1.0"/>
<ellipse cx="433.69" cy="1934.30" rx="6.3" ry="5.55" fill="#000" stroke="#000" stroke-width="1.0"/>
<ellipse cx="851.99" cy="1924.00" rx="6.3" ry="5.55" fill="#000" stroke="#000" stroke-width="1.0"/>
<ellipse cx="284.60" cy="1971.10" rx="6.25" ry="5.3" fill="#fff" stroke="#000" stroke-width="1.4"/>
<ellipse cx="290.81" cy="1962.50" rx="6.25" ry="5.3" fill="#fff" stroke="#000" stroke-width="1.4"/>
<ellipse cx="297.02" cy="1944.60" rx="6.25" ry="5.3" fill="#fff" stroke="#000" stroke-width="1.4"/>
<ellipse cx="303.24" cy="1924.90" rx="6.25" ry="5.3" fill="#fff" stroke="#000" stroke-width="1.4"/>
<ellipse cx="309.45" cy="1904.30" rx="6.25" ry="5.3" fill="#fff" stroke="#000" stroke-width="1.4"/>
<ellipse cx="321.87" cy="1866.60" rx="6.25" ry="5.3" fill="#fff" stroke="#000" stroke-width="1.4"/>
<ellipse cx="334.30" cy="1835.00" rx="6.25" ry="5.3" fill="#fff" stroke="#000" stroke-width="1.4"/>
<ellipse cx="359.15" cy="1784.80" rx="6.25" ry="5.3" fill="#fff" stroke="#000" stroke-width="1.4"/>
<ellipse cx="384.00" cy="1748.50" rx="6.25" ry="5.3" fill="#fff" stroke="#000" stroke-width="1.4"/>
<ellipse cx="408.85" cy="1722.50" rx="6.25" ry="5.3" fill="#fff" stroke="#000" stroke-width="1.4"/>
<ellipse cx="433.69" cy="1700.50" rx="6.25" ry="5.3" fill="#fff" stroke="#000" stroke-width="1.4"/>
<ellipse cx="851.99" cy="1664.75" rx="6.25" ry="5.3" fill="#fff" stroke="#000" stroke-width="1.4"/>
<line x1="673.70" y1="1602.80" x2="484.20" y2="1672.40" stroke="#111" stroke-width="1.5" stroke-dasharray="6.2 4.6"/>
<polygon points="464.6,1679.5 478.9,1664.9 486.4,1681" fill="#000"/>
<line x1="673.70" y1="1866.70" x2="484.20" y2="1924.90" stroke="#111" stroke-width="1.5" stroke-dasharray="6.2 4.6"/>
<polygon points="464.6,1930.9 480,1918 486.4,1933.5" fill="#000"/>
<rect x="704.9" y="1584.4" width="204" height="40" rx="10.5" ry="10.5" fill="#ff8000"/>
<mask id="mb0" maskUnits="userSpaceOnUse" x="690" y="1570" width="240" height="70"><rect x="708" y="1587.2" width="197.5" height="34" rx="9" ry="9" fill="#fff" filter="url(#bl)"/></mask>
<g mask="url(#mb0)"><ellipse cx="752" cy="1599" rx="200" ry="27" fill="url(#hl)"/></g>
<text xml:space="preserve" transform="translate(711.12,1613.75) scale(1.0718,1)" font-size="32.20"><tspan font-style="italic">ILKEPVHGA</tspan></text>
<path d="M908.1,1590.25 L922.1,1569.5 L956.9,1569.5" stroke="#111" stroke-width="1.5" fill="none"/>
<path d="M922.1,1571.25 L903.1,1547.5" stroke="#111" stroke-width="1.5" fill="none"/>
<path d="M927.5,1568.75 L911,1543.75" stroke="#111" stroke-width="1.5" fill="none"/>
<text xml:space="preserve" transform="translate(884.08,1538.10) scale(1.1265,1)" font-size="30.00">O</text>
<rect x="704.9" y="1801.9" width="204" height="40" rx="10.5" ry="10.5" fill="#ff8000"/>
<mask id="mb217" maskUnits="userSpaceOnUse" x="690" y="1787.5" width="240" height="70"><rect x="708" y="1804.7" width="197.5" height="34" rx="9" ry="9" fill="#fff" filter="url(#bl)"/></mask>
<g mask="url(#mb217)"><ellipse cx="752" cy="1816.5" rx="200" ry="27" fill="url(#hl)"/></g>
<text xml:space="preserve" transform="translate(711.12,1831.25) scale(1.0718,1)" font-size="32.20"><tspan font-style="italic">ILKEPVHGA</tspan></text>
<path d="M908.1,1807.75 L922.1,1787.0 L956.9,1787.0" stroke="#111" stroke-width="1.5" fill="none"/>
<path d="M922.1,1788.75 L903.1,1765.0" stroke="#111" stroke-width="1.5" fill="none"/>
<path d="M927.5,1786.25 L911,1761.25" stroke="#111" stroke-width="1.5" fill="none"/>
<text xml:space="preserve" transform="translate(884.08,1755.60) scale(1.1265,1)" font-size="30.00">O</text>
<text xml:space="preserve" transform="translate(960.39,1576.25) scale(1.1143,1)" font-size="30.20">S</text>
<path d="M980.6,1584.4 L993.5,1608 L1041.8,1617.9 L1067,1600.4" stroke="#111" stroke-width="1.5" fill="none"/>
<text xml:space="preserve" transform="translate(1067.80,1597.30) scale(1.1429,1)" font-size="31.50">CO</text>
<text xml:space="preserve" transform="translate(1119.68,1605.40) scale(1.2887,1)" font-size="22.00">2</text>
<text xml:space="preserve" transform="translate(1133.54,1597.30) scale(1.1735,1)" font-size="31.50">H</text>
<text xml:space="preserve" transform="translate(960.36,1793.10) scale(1.1340,1)" font-size="30.20">Se</text>
<path d="M980,1801.9 L993.3,1826 L1041.9,1835.6 L1051.25,1861.25" stroke="#111" stroke-width="1.5" fill="none"/>
<text xml:space="preserve" transform="translate(1043.44,1883.50) scale(1.1211,1)" font-size="31.30">N</text>
<line x1="1069.40" y1="1865.00" x2="1090.60" y2="1845.00" stroke="#111" stroke-width="1.5"/>
<line x1="1072.25" y1="1880.60" x2="1105.25" y2="1887.50" stroke="#111" stroke-width="1.5"/>
<line x1="1041.50" y1="1891.50" x2="1022.25" y2="1910.00" stroke="#111" stroke-width="1.5"/>
<ellipse cx="1022.75" cy="1877.50" rx="11.9" ry="10.6" fill="none" stroke="#111" stroke-width="1.3"/>
<line x1="1016.00" y1="1877.50" x2="1030.00" y2="1877.50" stroke="#111" stroke-width="1.3"/>
<line x1="1023.00" y1="1871.20" x2="1023.00" y2="1883.70" stroke="#111" stroke-width="1.3"/>
</svg>
</body></html>
